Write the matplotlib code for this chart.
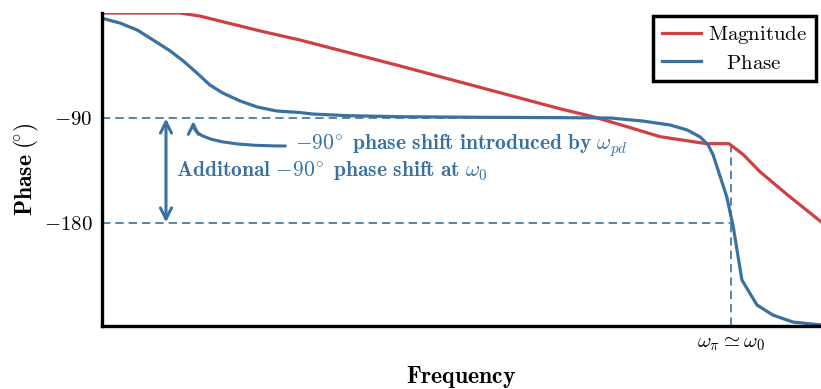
import matplotlib
matplotlib.use("Agg")
import matplotlib.pyplot as plt
import numpy as np

plt.rcParams['mathtext.fontset'] = 'cm'
plt.rcParams['font.family'] = ['DejaVu Serif']

# log-frequency positions (decades, arbitrary origin)
phase_x = [0.0, 0.25, 0.49, 0.71, 0.95, 1.13, 1.32, 1.50, 1.68, 1.92, 2.16, 2.43, 2.75,
           2.93, 3.41, 4.14, 5.26, 6.37, 7.07, 7.52, 7.90, 8.14, 8.32, 8.43, 8.50,
           8.69, 8.78, 8.90, 9.11, 9.33, 9.61, 10.0]
phase_y = [-4.5, -8.6, -14.6, -23.1, -32.6, -41.1, -51.4, -61.7, -68.6, -75.4, -80.6, -84.0, -85.3,
           -86.6, -88.0, -88.9, -89.4, -89.7, -90.0, -92.6, -96.0, -100.3, -106.3, -113.1, -121.7,
           -157.7, -183.4, -228.9, -250.3, -258.9, -264.9, -267.4]

mag_x = [0.0, 1.08, 1.36, 1.64, 1.92, 2.20, 2.75, 4.14, 5.54, 6.37, 6.83, 7.30, 7.76,
         8.22, 8.41, 8.72, 8.92, 9.15, 9.53, 10.0]
mag_y = [0.0, 0.0, -2.6, -6.9, -11.1, -15.4, -23.1, -45.3, -68.4, -82.1, -88.9, -97.4, -106.0,
         -110.3, -112.0, -112.0, -121.4, -136.0, -155.7, -178.9]

w0 = 8.75
ytick_vals = [-90, -180]
ytick_labels = [r'$-90$', r'$-180$']
xtick_label = r'$\omega_\pi \simeq \omega_0$'

red = '#cf3f43'
blue = '#3a71a0'

fig = plt.figure(figsize=(8.21, 3.89), dpi=100)
ax = fig.add_axes([102/821, 1-326/389, 719/821, 313/389])

ls_d = (0, (5, 3))
ax.plot([0, 6.93], [-90, -90], color=blue, lw=1.2, ls=ls_d)
ax.plot([0, w0], [-180, -180], color=blue, lw=1.2, ls=ls_d)
ax.plot([w0, w0], [-112.0, -268.3], color=blue, lw=1.2, ls=ls_d)

ax.plot(mag_x, mag_y, color=red, lw=2.3, label=r'$\mathrm{Magnitude}$',
        solid_joinstyle='round')
ax.plot(phase_x, phase_y, color=blue, lw=2.3, label=r'$\quad\mathrm{Phase}$',
        solid_joinstyle='round')

ax.set_xlim(0, 10)
ax.set_ylim(-268.3, 0)

ax.set_yticks(ytick_vals)
ax.set_yticklabels(ytick_labels, fontsize=15)
ax.set_xticks([w0])
ax.set_xticklabels([xtick_label], fontsize=15)
ax.tick_params(axis='both', length=0)
ax.tick_params(axis='y', pad=7)
ax.tick_params(axis='x', pad=6)

for s in ['top', 'right']:
    ax.spines[s].set_visible(False)
for s in ['left', 'bottom']:
    ax.spines[s].set_linewidth(2.4)
    ax.spines[s].set_color('black')

ax.set_ylabel(r'$\mathbf{Phase\ (\!^{\circ})}$', fontsize=17, labelpad=2)
ax.set_xlabel(r'$\mathbf{Frequency}$', fontsize=17, labelpad=8)

# annotations
ax.annotate('', xy=(0.89, -90.5), xytext=(0.89, -179.5),
            arrowprops=dict(arrowstyle='<->', color=blue, lw=2.2, mutation_scale=20,
                            shrinkA=0, shrinkB=0))
ax.annotate('', xy=(1.27, -92.5), xytext=(2.55, -114),
            arrowprops=dict(arrowstyle='->', color=blue, lw=2.2, mutation_scale=18,
                            shrinkA=0, shrinkB=0,
                            connectionstyle='angle3,angleA=0,angleB=90'))
ax.text(2.68, -113.5, r'$\mathbf{{-}90^{\!\circ}\ phase\ shift\ introduced\ by}\ \omega_{pd}$',
        color=blue, fontsize=15.5, ha='left', va='center')
ax.text(1.03, -135.5, r'$\mathbf{Additonal\ {-}90^{\!\circ}\ phase\ shift\ at}\ \omega_0$',
        color=blue, fontsize=15.5, ha='left', va='center')

leg = ax.legend(loc='upper right', bbox_to_anchor=(0.993, 0.99), borderaxespad=0,
                fontsize=15, fancybox=False, framealpha=1, edgecolor='black',
                handlelength=1.9, handletextpad=0.35, labelspacing=0.35,
                borderpad=0.4)
leg.get_frame().set_linewidth(2.5)

fig.savefig('out.png', dpi=100)
